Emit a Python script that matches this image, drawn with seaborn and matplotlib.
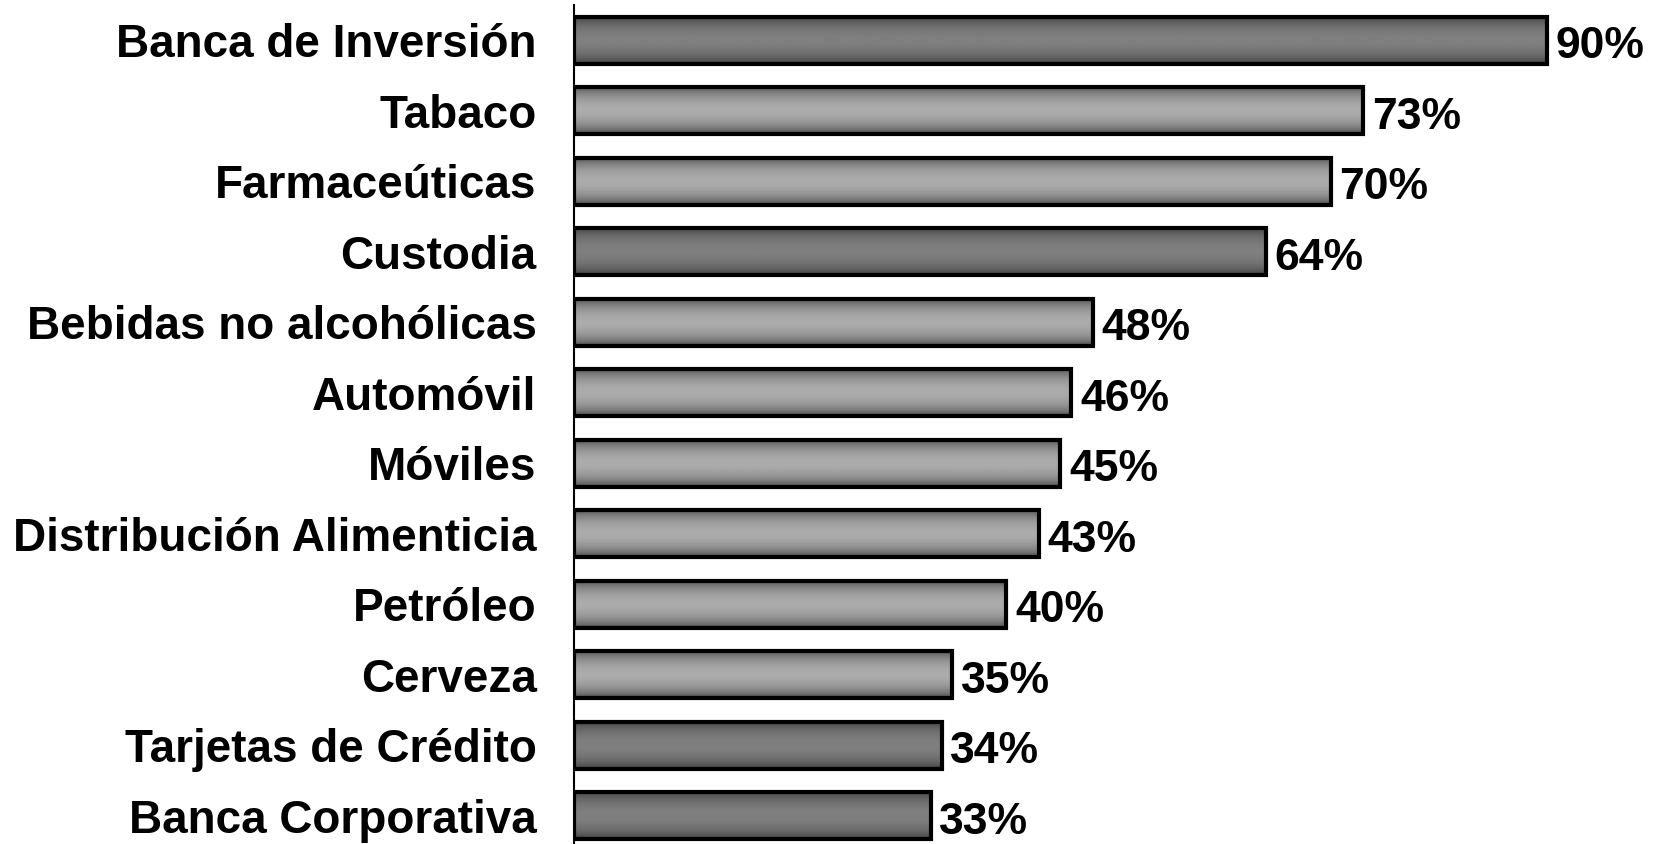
import numpy as np
import pandas as pd
import matplotlib
matplotlib.use('Agg')
import matplotlib.pyplot as plt
import seaborn as sns

# Data
categories = ['Banca de Inversión', 'Tabaco', 'Farmaceúticas', 'Custodia',
              'Bebidas no alcohólicas', 'Automóvil', 'Móviles',
              'Distribución Alimenticia', 'Petróleo', 'Cerveza',
              'Tarjetas de Crédito', 'Banca Corporativa']
values = [90, 73, 70, 64, 48, 46, 45, 43, 40, 35, 34, 33]
groups = ['oscuro', 'claro', 'claro', 'oscuro', 'claro', 'claro', 'claro',
          'claro', 'claro', 'claro', 'oscuro', 'oscuro']

df = pd.DataFrame({'sector': categories, 'valor': values, 'grupo': groups})

sns.set_style('white')
plt.rcParams['font.family'] = ['Liberation Sans', 'DejaVu Sans']

fig = plt.figure(figsize=(16.69, 8.44), dpi=100)
ax = fig.add_axes([574 / 1669, 0, 1081 / 1669, 1])

sns.barplot(data=df, x='valor', y='sector', hue='grupo', orient='h',
            palette={'oscuro': '#808080', 'claro': '#a8a8a8'},
            dodge=False, width=0.67, legend=False, ax=ax)

# Gradient fill for each bar (dark at top/bottom, lighter in the middle)
t = np.linspace(0, 1, 64)
prof = np.sin(np.pi * t) ** 0.55
shades = {'oscuro': (0.20, 0.50), 'claro': (0.22, 0.67)}
bars = sorted(ax.patches, key=lambda p: p.get_y())
for i, (patch, grp) in enumerate(zip(bars, groups)):
    x0, y0 = patch.get_x(), patch.get_y()
    w, h = patch.get_width(), patch.get_height()
    lo, hi = shades[grp]
    col = (lo + (hi - lo) * prof)[:, None] * np.ones((1, 2))
    ax.imshow(col, cmap='gray', vmin=0, vmax=1, aspect='auto',
              extent=[x0, x0 + w, y0 + h, y0], zorder=2, interpolation='bilinear')
    patch.set_facecolor('none')
    patch.set_edgecolor('black')
    patch.set_linewidth(3)
    patch.set_zorder(3)
    ax.text(x0 + w + 0.8, y0 + h / 2 + 0.09, f'{values[i]}%',
            ha='left', va='center', fontsize=32, fontweight='bold', color='black')

ax.set_xlim(0, 100)
ax.set_ylim(11.4, -0.57)
ax.set_xlabel('')
ax.set_ylabel('')
ax.set_xticks([])
ax.tick_params(axis='y', length=0, pad=27, labelsize=33, labelcolor='black')
for lbl in ax.get_yticklabels():
    lbl.set_fontweight('bold')
for s in ['top', 'right', 'bottom']:
    ax.spines[s].set_visible(False)
ax.spines['left'].set_color('black')
ax.spines['left'].set_linewidth(1.5)
ax.spines['left'].set_bounds(-0.5, 11.5)

fig.savefig('out.png', dpi=100)
